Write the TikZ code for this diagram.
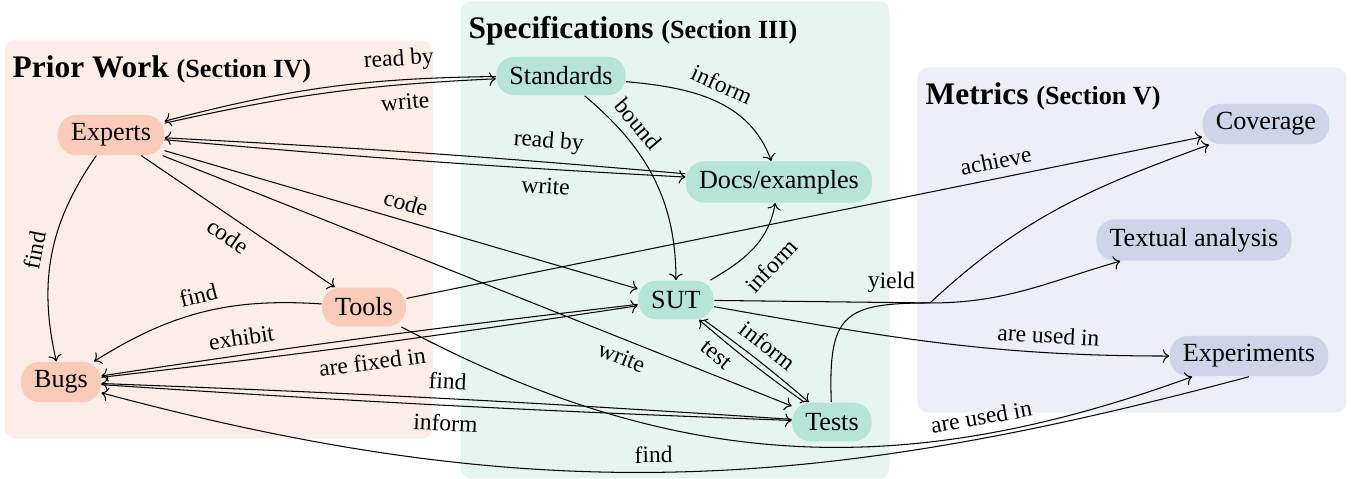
\documentclass[tikz,border=0pt]{standalone}
\usepackage{fontspec}
\setmainfont{Liberation Serif}
\usepackage{tikz}
\usetikzlibrary{arrows.meta, positioning}
\definecolor{PriorBg}{RGB}{253, 237, 231}
\definecolor{PriorNode}{RGB}{250, 203, 184}
\definecolor{SpecBg}{RGB}{230, 245, 240}
\definecolor{SpecNode}{RGB}{183, 228, 216}
\definecolor{MetricBg}{RGB}{236, 239, 247}
\definecolor{MetricNode}{RGB}{205, 213, 232}

\begin{document}
\begin{tikzpicture}
        \tikzstyle{group} = [rectangle, rounded corners=4pt, anchor=north west, inner sep=0pt]
        \tikzstyle{grouptitle} = [anchor=base west, inner sep=0pt, font=\large\bfseries]
        \tikzstyle{entity} = [rectangle, rounded corners=7pt, minimum height=0.52cm, inner xsep=5pt, text centered]
        \tikzstyle{arrow} = [->]
        \tikzstyle{lbl} = [font=\small, sloped]

        \useasboundingbox (0,0) rectangle (18.15,-6.435);

        % Groups
        \node (prior) [group, fill=PriorBg, minimum width=5.75cm, minimum height=5.347cm] at (0.054,-0.537) {};
        \node (spec) [group, fill=SpecBg, minimum width=5.763cm, minimum height=6.408cm] at (6.18,-0.013) {};
        \node (metric) [group, fill=MetricBg, minimum width=5.763cm, minimum height=4.635cm] at (12.319,-0.9) {};
        \node (priortitle) [grouptitle] at ([xshift=0.11cm, yshift=-0.5cm]prior.north west) {Prior Work {\normalsize (Section IV)}};
        \node (spectitle) [grouptitle] at ([xshift=0.11cm, yshift=-0.5cm]spec.north west) {Specifications {\normalsize (Section III)}};
        \node (metrictitle) [grouptitle] at ([xshift=0.11cm, yshift=-0.5cm]metric.north west) {Metrics {\normalsize (Section V)}};

        % Nodes
        \node (experts) [entity, fill=PriorNode] at (1.491,-1.814) {Experts};
        \node (bugs) [entity, fill=PriorNode] at (0.819,-5.132) {Bugs};
        \node (tools) [entity, fill=PriorNode] at (4.89,-4.124) {Tools};
        \node (standards) [entity, fill=SpecNode] at (7.537,-1.021) {Standards};
        \node (docs) [entity, fill=SpecNode] at (10.465,-2.445) {Docs/examples};
        \node (sut) [entity, fill=SpecNode] at (9.081,-4.03) {SUT};
        \node (tests) [entity, fill=SpecNode] at (11.177,-5.669) {Tests};
        \node (coverage) [entity, fill=MetricNode] at (17.007,-1.666) {Coverage};
        \node (textual) [entity, fill=MetricNode] at (16.04,-3.224) {Textual analysis};
        \node (experiments) [entity, fill=MetricNode] at (16.779,-4.783) {Experiments};
        \coordinate (yieldjoin) at (12.494,-4.07);

        % Arrows
        \draw [arrow] (standards) to[bend right=7] node[lbl, above, pos=0.27] {read by} (experts);
        \draw [arrow] (experts) to[bend left=5] node[lbl, below, pos=0.74] {write} (standards);
        \draw [arrow] (docs) to[bend right=1] node[lbl, above, pos=0.25] {read by} (experts);
        \draw [arrow] (experts) to[bend right=1] node[lbl, below, pos=0.75] {write} (docs);
        \draw [arrow] (experts) to[bend right=24] node[lbl, above] {find} (bugs);
        \draw [arrow] (experts) -- node[lbl, below] {code} (tools);
        \draw [arrow] (experts) -- node[lbl, above] {code} (sut);
        \draw [arrow] (experts) -- node[lbl, below, pos=0.74] {write} (tests);
        \draw [arrow] (tools) to[bend right=18] node[lbl, above] {find} (bugs);
        \draw [arrow] (sut) to[bend right=1] node[lbl, above, pos=0.75] {exhibit} (bugs);
        \draw [arrow] (bugs) to[bend right=1] node[lbl, below] {are fixed in} (sut);
        \draw [arrow] (tests) to[bend right=0.8] node[lbl, above] {find} (bugs);
        \draw [arrow] (bugs) to[bend right=0.8] node[lbl, below] {inform} (tests);
        \draw [arrow] (tools) -- node[lbl, above, pos=0.745] {achieve} (coverage);
        \draw [arrow] (tools) to[out=-28, in=200] node[lbl, above, pos=0.75] {are used in} (experiments);
        \draw [arrow] (experiments.south) to[out=195, in=-15] node[lbl, above, pos=0.52] {find} (bugs);

        % Specifications
        \draw [arrow] (standards) to[out=-5, in=110] node[lbl, above] {inform} (docs);
        \draw [arrow] (standards) to[out=-40, in=90] node[lbl, above, pos=0.25] {bound} (sut);
        \draw [arrow] (sut) to[out=30, in=-100] node[lbl, below, pos=0.5, inner sep=6pt] {inform} (docs);
        \draw [arrow] (sut) to[bend left=2.5] node[lbl, above] {inform} (tests);
        \draw [arrow] (tests) to[bend left=2.5] node[lbl, below, pos=0.75] {test} (sut);

        % Metrics
        \draw (sut) -- node[lbl, above, pos=0.82] {yield} (yieldjoin);
        \draw (tests) to[out=92, in=180, looseness=1.6] (yieldjoin);
        \draw [arrow] (yieldjoin) to[out=43, in=200] (coverage);
        \draw [arrow] (yieldjoin) to[out=0, in=196] (textual);
        \draw [arrow] (sut) to[out=-10, in=180] node[lbl, above, pos=0.75] {are used in} (experiments);
    \end{tikzpicture}
\end{document}
